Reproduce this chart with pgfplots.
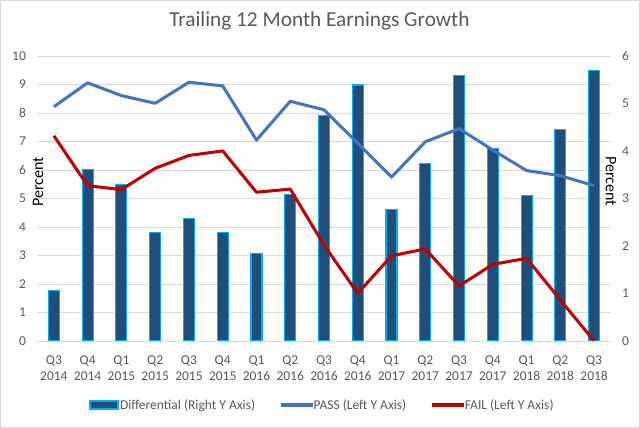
\documentclass[border=0pt]{standalone}
\usepackage{pgfplots}
\pgfplotsset{compat=1.18}
\usepackage{fontspec}
\setmainfont{Carlito}
\definecolor{txt}{HTML}{595959}
\definecolor{gridc}{HTML}{D9D9D9}
\definecolor{passblue}{HTML}{4472C4}
\definecolor{failred}{HTML}{C00000}
\definecolor{barfill}{HTML}{1F4E79}
\definecolor{barborder}{HTML}{00B0F0}
\pgfplotsset{
  common/.style={
    at={(37bp,87bp)}, anchor=south west,
    scale only axis, width=574bp, height=285bp,
    xmin=-0.5, xmax=16.5,
    major tick length=0,
    axis line style={draw=none},
    tick label style={font=\fontsize{13.5bp}{16bp}\selectfont, text=txt},
    /pgf/number format/assume math mode=true,
  },
}
\begin{document}
\begin{tikzpicture}
\path[use as bounding box] (0bp,0bp) rectangle (640bp,428bp);
\draw[gridc, line width=0.9bp] (0.5bp,0.5bp) rectangle (639.5bp,427.5bp);
% bars on the right axis
\begin{axis}[common,
  ymin=0, ymax=6,
  axis y line*=right, axis x line=none,
  xtick=\empty,
  ytick={0,1,2,3,4,5,6},
  yticklabel style={xshift=7.6bp},
  extra y ticks={0,0.6,1.2,1.8,2.4,3,3.6,4.2,4.8,5.4,6},
  extra y tick labels={},
  extra y tick style={grid=major},
  grid style={gridc, line width=0.9bp},
  ylabel={Percent},
  every axis y label/.style={at={(rel axis cs:1,0.56)}, anchor=center, rotate=-90,
     font=\fontsize{16bp}{18bp}\selectfont, text=black},
]
\addplot[ybar, bar width=11bp, bar shift=0pt, fill=barfill, draw=barborder, line width=1.1bp]
 coordinates {(0,1.06) (1,3.61) (2,3.29) (3,2.29) (4,2.57) (5,2.28) (6,1.84) (7,3.09) (8,4.75) (9,5.39) (10,2.76) (11,3.73) (12,5.59) (13,4.06) (14,3.07) (15,4.46) (16,5.70)};
\end{axis}
% lines on the left axis
\begin{axis}[common,
  ymin=0, ymax=10,
  axis x line*=bottom, axis y line*=left,
  ytick={0,1,...,10},
  yticklabel style={xshift=-7.6bp},
  xtick={0,...,16},
  xticklabels={Q3\\2014,Q4\\2014,Q1\\2015,Q2\\2015,Q3\\2015,Q4\\2015,Q1\\2016,Q2\\2016,Q3\\2016,Q4\\2016,Q1\\2017,Q2\\2017,Q3\\2017,Q4\\2017,Q1\\2018,Q2\\2018,Q3\\2018},
  xticklabel style={align=center, yshift=-11.5bp},
  ylabel={Percent},
  every axis y label/.style={at={(rel axis cs:0.002,0.558)}, anchor=center, rotate=90,
     font=\fontsize{16bp}{18bp}\selectfont, text=black},
  title={Trailing 12 Month Earnings Growth},
  title style={at={(axis description cs:0.492,1.0832)}, anchor=base,
     font=\fontsize{21.3bp}{24bp}\selectfont, text=txt},
  legend columns=3,
  legend style={draw=none, fill=none, at={(axis description cs:0.497,-0.2246)}, anchor=center,
     font=\fontsize{13.5bp}{16bp}\selectfont, text=txt,
     nodes={inner xsep=1.5bp},
     /tikz/every even column/.append style={column sep=24bp}},
]
\addlegendimage{legend image code/.code={\draw[fill=barfill, draw=barborder, line width=1.1bp] (0bp,-4bp) rectangle (28bp,4bp);}}
\addlegendentry{Differential (Right Y Axis)}
\addlegendimage{legend image code/.code={\fill[passblue] (0bp,-1.4bp) rectangle (31bp,1.4bp);}}
\addlegendentry{PASS (Left Y Axis)}
\addlegendimage{legend image code/.code={\fill[failred] (0bp,-1.4bp) rectangle (31bp,1.4bp);}}
\addlegendentry{FAIL (Left Y Axis)}
\addplot[passblue, line width=3bp, line join=round, mark=none, forget plot]
 coordinates {(0,8.22) (1,9.06) (2,8.61) (3,8.34) (4,9.08) (5,8.95) (6,7.05) (7,8.41) (8,8.11) (9,6.94) (10,5.75) (11,6.99) (12,7.45) (13,6.70) (14,5.98) (15,5.80) (16,5.45)};
\addplot[failred, line width=3bp, line join=round, mark=none, forget plot]
 coordinates {(0,7.20) (1,5.45) (2,5.31) (3,6.06) (4,6.51) (5,6.67) (6,5.22) (7,5.33) (8,3.37) (9,1.67) (10,2.99) (11,3.23) (12,1.93) (13,2.69) (14,2.90) (15,1.44) (16,0)};
\end{axis}
\end{tikzpicture}
\end{document}
